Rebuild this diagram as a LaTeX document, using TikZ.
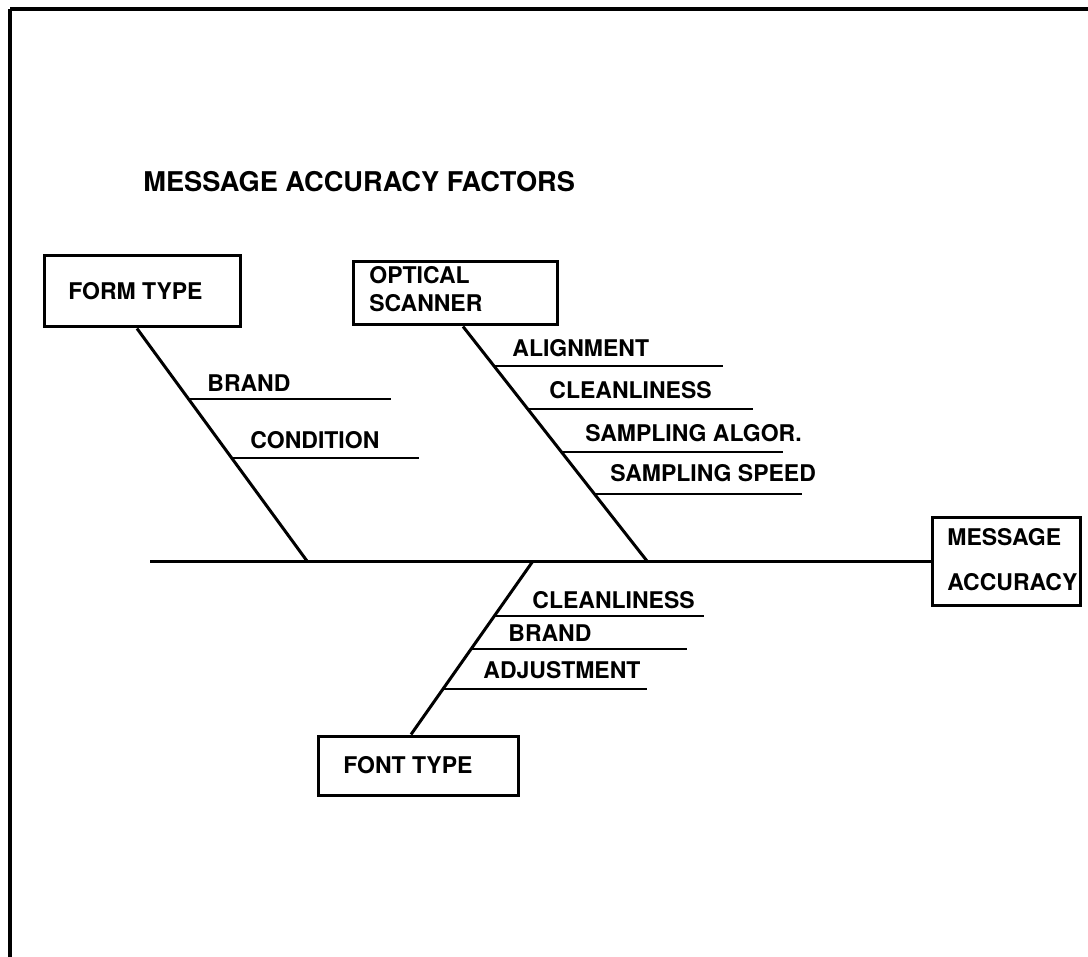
\documentclass[tikz,border=0pt]{standalone}
\usepackage{fontspec}
\setmainfont{TeX Gyre Heros}
\usetikzlibrary{calc}
\begin{document}
\begin{tikzpicture}[x=0.5pt,y=-0.5pt,
  lbl/.style={anchor=west,inner sep=0pt,font=\bfseries\fontsize{11.5}{13.5}\selectfont},
  multilbl/.style={anchor=north west,inner sep=0pt,align=left,font=\bfseries\fontsize{11.5}{13.5}\selectfont},
  causebox/.style={draw,rectangle,inner sep=0pt,line width=1.5pt},
  bone/.style={line width=1.5pt},
  rib/.style={line width=1.3pt}]
\useasboundingbox (0,0) rectangle (1088,957);
% page frame
\draw[line width=2.4pt] (10,9) -- (1088,9);
\draw[line width=1.7pt] (10,9) -- (10,957);

% title
\node[anchor=west,inner sep=0pt,font=\bfseries\fontsize{13.6}{15}\selectfont] (title) at (143,182) {MESSAGE ACCURACY FACTORS};

% cause and effect boxes
\node[causebox,minimum width=98pt,minimum height=35.5pt] (form) at (142,291.5) {};
\node[causebox,minimum width=102pt,minimum height=31.5pt] (optic) at (455,293.5) {};
\node[causebox,minimum width=74pt,minimum height=44pt] (effect) at (1006,561) {};
\node[causebox,minimum width=100pt,minimum height=29.5pt] (font) at (418,765.5) {};

\node[lbl] (formt) at (68,291) {FORM TYPE};
\node[multilbl] (optict) at (369,266.5) {OPTICAL\\[0.5pt]SCANNER};
\node[multilbl] (effectt) at (947,528.5) {MESSAGE\\[9pt]ACCURACY};
\node[lbl] (fontt) at (343,765) {FONT TYPE};

% spine
\coordinate (tail) at (150,561);
\draw[bone] (tail) -- (effect.west);

% main bones
\coordinate (j1) at (307,561);
\coordinate (j2) at (647,561);
\coordinate (j3) at (533,561);
\draw[bone] ($(form.south)+(-5,0)$) -- (j1);
\draw[bone] ($(optic.south)+(8,0)$) -- (j2);
\draw[bone] (j3) -- ($(font.north)+(-7,0)$);

% form type ribs
\coordinate (a1) at (189.3,399); \coordinate (a1e) at (391,399);
\coordinate (a2) at (232.2,458); \coordinate (a2e) at (419,458);
\draw[rib] (a1) -- (a1e);
\draw[rib] (a2) -- (a2e);
\node[lbl] (brand1) at (207,383) {BRAND};
\node[lbl] (cond) at (250,440) {CONDITION};

% optical scanner ribs
\coordinate (b1) at (495.0,366); \coordinate (b1e) at (723,366);
\coordinate (b2) at (528.5,409); \coordinate (b2e) at (753,409);
\coordinate (b3) at (562.0,452); \coordinate (b3e) at (783,452);
\coordinate (b4) at (594.8,494); \coordinate (b4e) at (802,494);
\draw[rib] (b1) -- (b1e);
\draw[rib] (b2) -- (b2e);
\draw[rib] (b3) -- (b3e);
\draw[rib] (b4) -- (b4e);
\node[lbl] (align) at (512,348) {ALIGNMENT};
\node[lbl] (clean1) at (549,390) {CLEANLINESS};
\node[lbl] (algor) at (585,433) {SAMPLING ALGOR.};
\node[lbl] (speed) at (610,473) {SAMPLING SPEED};

% font type ribs
\coordinate (c1) at (494.7,616); \coordinate (c1e) at (704,616);
\coordinate (c2) at (471.7,649); \coordinate (c2e) at (687,649);
\coordinate (c3) at (443.8,689); \coordinate (c3e) at (647,689);
\draw[rib] (c1) -- (c1e);
\draw[rib] (c2) -- (c2e);
\draw[rib] (c3) -- (c3e);
\node[lbl] (clean2) at (532,600) {CLEANLINESS};
\node[lbl] (brand2) at (508,633) {BRAND};
\node[lbl] (adjust) at (483,670) {ADJUSTMENT};
\end{tikzpicture}
\end{document}
